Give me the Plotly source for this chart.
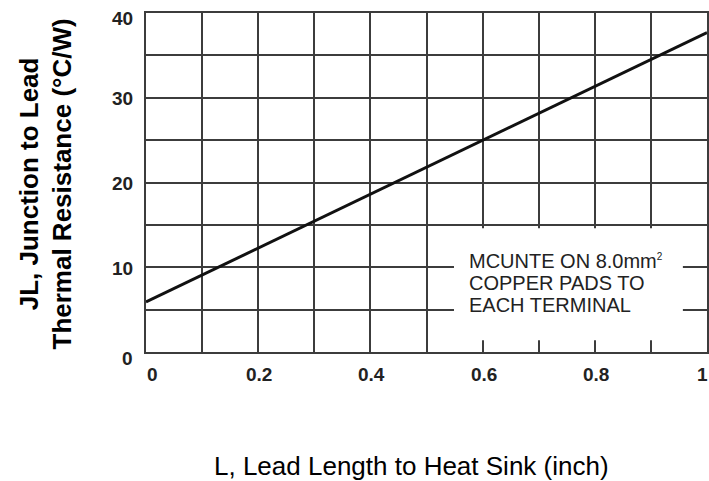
import plotly.graph_objects as go

# Data
lead_length = [0.0, 1.0]                 # inch
thermal_res = [5.9, 37.7]                # °C/W
x_ticks = [0, 0.2, 0.4, 0.6, 0.8, 1.0]
x_tick_labels = ["0", "0.2", "0.4", "0.6", "0.8", "1"]
y_ticks = [0, 10, 20, 30, 40]
y_tick_labels = ["0", "10", "20", "30", "40"]
note_lines = ["MCUNTE ON 8.0mm<sup><span style='font-size:10px'>2</span></sup>",
              "COPPER PADS TO", "EACH TERMINAL"]

FONT = "Liberation Sans, Arial, sans-serif"
GRID = "#3c3c3c"
TXT = "#222222"

fig = go.Figure()
fig.add_trace(go.Scatter(x=lead_length, y=thermal_res, mode="lines",
                         line=dict(color="#111111", width=3), showlegend=False,
                         hoverinfo="skip"))

fig.update_layout(
    width=709, height=481,
    margin=dict(l=146, r=0, t=13, b=129),
    paper_bgcolor="white", plot_bgcolor="white",
    font=dict(family=FONT, color=TXT),
    xaxis=dict(range=[0, 1.0], dtick=0.1, tick0=0, showgrid=True, gridcolor=GRID,
               gridwidth=1.5, showticklabels=False, ticks="", zeroline=False,
               showline=True, linecolor=GRID, linewidth=1.5, mirror=True),
    yaxis=dict(range=[0, 40], dtick=5, tick0=0, showgrid=True, gridcolor=GRID,
               gridwidth=1.5, showticklabels=False, ticks="", zeroline=False,
               showline=True, linecolor=GRID, linewidth=1.5, mirror=True),
)

# white note box covering the grid in the lower right
fig.add_shape(type="rect", xref="x", yref="y", x0=0.549, x1=0.957, y0=1.4, y1=14.6,
              fillcolor="white", line=dict(width=0), layer="above")

annotations = []
# x tick labels
for i, (v, t) in enumerate(zip(x_ticks, x_tick_labels)):
    xs = 6 if i == 0 else (-5 if i == len(x_ticks) - 1 else 1)
    annotations.append(dict(x=v, y=0, xref="x", yref="y", text="<b>" + t + "</b>",
                            showarrow=False, xanchor="center", yanchor="middle",
                            xshift=xs, yshift=-22,
                            font=dict(family=FONT, size=19, color=TXT)))
# y tick labels
for i, (v, t) in enumerate(zip(y_ticks, y_tick_labels)):
    ys = -6 if i == 0 else (-5 if i == len(y_ticks) - 1 else -1)
    annotations.append(dict(x=0, y=v, xref="x", yref="y", text="<b>" + t + "</b>",
                            showarrow=False, xanchor="right", yanchor="middle",
                            xshift=-11, yshift=ys,
                            font=dict(family=FONT, size=19, color=TXT)))

# note text
for j, line in enumerate(note_lines):
    annotations.append(dict(x=0.572, y=[10.68, 8.14, 5.55][j], xref="x", yref="y",
                            text=line, showarrow=False, xanchor="left", yanchor="middle",
                            font=dict(family=FONT, size=20, color=TXT)))

# axis titles
annotations.append(dict(x=0.5, y=0, xref="paper", yref="paper",
                        text="L, Lead Length to Heat Sink (inch)", showarrow=False,
                        xanchor="center", yanchor="middle", xshift=-15, yshift=-114,
                        font=dict(family=FONT, size=26, color="#000000")))
annotations.append(dict(x=0, y=0.5, xref="paper", yref="paper",
                        text="<b>JL, Junction to Lead</b><br><b>Thermal Resistance (°C/W)</b>",
                        showarrow=False, textangle=-90, xanchor="center", yanchor="middle",
                        xshift=-101, yshift=-2,
                        font=dict(family=FONT, size=26, color="#000000")))

fig.update_layout(annotations=annotations)
fig.write_html("out.html", config={"displayModeBar": False},
               post_script="document.body.style.margin='0';document.body.style.overflow='hidden';")
